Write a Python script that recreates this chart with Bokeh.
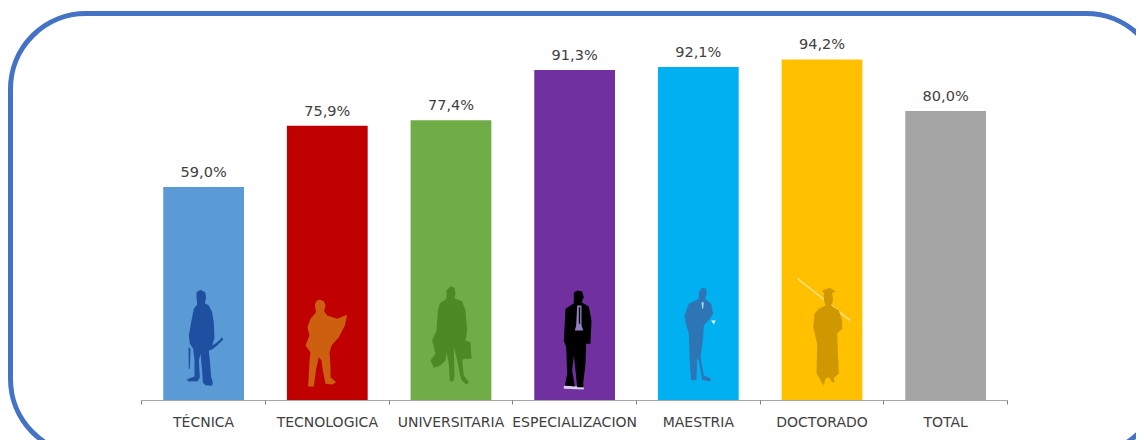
from bokeh.plotting import figure
from bokeh.models import ColumnDataSource, Range1d, LinearAxis, FixedTicker, InlineStyleSheet
from bokeh.core.properties import value
from bokeh.embed import file_html
from bokeh.resources import INLINE

categories = ["TÉCNICA", "TECNOLOGICA", "UNIVERSITARIA", "ESPECIALIZACION", "MAESTRIA", "DOCTORADO", "TOTAL"]
values = [59.0, 75.9, 77.4, 91.3, 92.1, 94.2, 80.0]
labels = ["59,0%", "75,9%", "77,4%", "91,3%", "92,1%", "94,2%", "80,0%"]
colors = ["#5B9BD5", "#C00000", "#70AD47", "#7030A0", "#00B0F0", "#FFC000", "#A5A5A5"]

# decorative silhouettes: outline points in page pixels relative to an origin, scale 1/3
figures_art = [
    (170, 280, "#1E4FA0", [(90,28),(104,35),(107,50),(103,68),(115,75),(125,95),(130,125),(132,172),(125,195),(140,185),(155,170),(158,178),(140,195),(125,207),(115,210),(118,240),(122,290),(127,305),(125,316),(105,314),(97,306),(95,270),(90,220),(85,240),(88,290),(82,302),(55,303),(48,297),(72,288),(72,240),(68,205),(58,190),(55,165),(62,125),(70,85),(80,72),(78,50),(78,35)]),
    (170, 280, "#1E4FA0", [(54,200),(60,205),(58,265),(55,265)]),
    (295, 280, "#CC6010", [(72,57),(85,62),(90,75),(86,92),(95,105),(125,115),(155,103),(148,135),(130,170),(108,195),(102,215),(105,260),(105,290),(122,305),(110,312),(90,310),(82,270),(78,240),(70,230),(62,265),(55,318),(38,318),(40,280),(42,240),(45,215),(30,195),(42,165),(36,140),(45,115),(62,95),(58,75),(62,62)]),
    (420, 280, "#4C8A26", [(90,17),(102,22),(105,40),(103,55),(125,62),(135,90),(140,150),(135,180),(150,185),(153,235),(130,235),(125,240),(130,285),(145,305),(138,313),(122,298),(110,240),(100,200),(102,290),(98,303),(88,302),(85,250),(78,215),(75,240),(60,255),(40,262),(30,240),(45,220),(35,180),(48,150),(52,90),(58,68),(78,55),(78,30)]),
    (545, 280, "#D8CCE8", [(55,316),(115,318),(115,327),(55,325)]),
    (545, 280, "#000000", [(97,30),(110,33),(115,50),(108,65),(130,78),(138,120),(135,190),(122,190),(120,250),(113,310),(115,320),(95,320),(90,270),(85,225),(80,270),(88,318),(58,315),(65,280),(62,200),(55,180),(60,85),(85,68),(85,50),(85,35)]),
    (545, 280, "#9080C0", [(95,75),(108,75),(108,135),(113,150),(88,150),(92,135)]),
    (545, 280, "#000000", [(100,80),(104,80),(104,130),(100,130)]),
    (670, 280, "#2E75B6", [(95,22),(107,25),(108,42),(104,55),(122,70),(128,100),(118,115),(100,135),(98,170),(90,230),(100,285),(122,295),(118,303),(95,298),(85,240),(80,230),(78,298),(62,300),(58,250),(55,160),(45,125),(42,105),(55,70),(85,55),(85,35)]),
    (670, 280, "#A8D8F4", [(93,65),(100,65),(98,85),(95,85)]),
    (670, 280, "#FFFFFF", [(122,120),(135,120),(130,132)]),
    (790, 270, "#FFE080", [(22,22),(180,148),(178,152),(20,26)]),
    (790, 270, "#D09800", [(95,60),(118,52),(135,62),(125,68),(128,90),(122,105),(145,120),(155,150),(155,175),(140,190),(145,310),(130,322),(132,335),(125,335),(115,320),(105,325),(100,345),(92,335),(88,325),(78,310),(80,220),(68,170),(72,130),(85,115),(105,105),(100,90),(100,68)]),
]

X0, STEP = 141.3, 123.67   # px of category edge 0, px per category
Y0, PCT = 400.0, 3.62      # px of value 0, px per percent
FW, FH = 1136, 400

border_css = InlineStyleSheet(css="""
:host { overflow: hidden; }
:host::after { content: ''; position: absolute; left: 8px; top: 11px; width: 1156px; height: 446px;
  box-sizing: border-box; border: 5.5px solid #4472C4; border-radius: 78px; pointer-events: none; z-index: 5; }
""")

p = figure(width=FW, height=440, frame_width=FW, frame_height=FH, toolbar_location=None,
           output_backend="svg", min_border=0, min_border_bottom=40, x_axis_type=None, y_axis_type=None,
           x_range=Range1d(-X0 / STEP, (FW - X0) / STEP),
           y_range=Range1d(0, FH / PCT), outline_line_color=None, background_fill_color="white",
           stylesheets=[border_css])
p.grid.visible = False

centers = [i + 0.5 for i in range(len(categories))]
src = ColumnDataSource(dict(x=centers, top=values, color=colors, label=labels))
p.vbar(x="x", top="top", bottom=0, width=0.653, color="color", line_color=None, source=src)
p.text(x="x", y="top", text="label", source=src, text_align="center", text_baseline="middle",
       y_offset=-15, text_font=value("DejaVu Sans"), text_font_size="14.5px", text_color="#404040")

for ox, oy, col, pts in figures_art:
    xs = [((ox + a / 3) - X0) / STEP for a, b in pts]
    ys = [(Y0 - (oy + b / 3)) / PCT for a, b in pts]
    p.patch(xs, ys, color=col, line_color=None)

axis = LinearAxis(bounds=(0, len(categories)),
                  ticker=FixedTicker(ticks=centers, minor_ticks=list(range(len(categories) + 1))),
                  major_label_overrides={c: n for c, n in zip(centers, categories)})
axis.major_tick_line_color = None
axis.axis_line_color = "#A6A6A6"
axis.axis_line_width = 1
axis.minor_tick_line_color = "#808080"
axis.minor_tick_out = 4
axis.minor_tick_in = 0
axis.major_label_standoff = 7
axis.major_label_text_font = "DejaVu Sans"
axis.major_label_text_font_size = "14px"
axis.major_label_text_color = "#404040"
p.add_layout(axis, "below")

open("out.html", "w").write(file_html(p, INLINE))
